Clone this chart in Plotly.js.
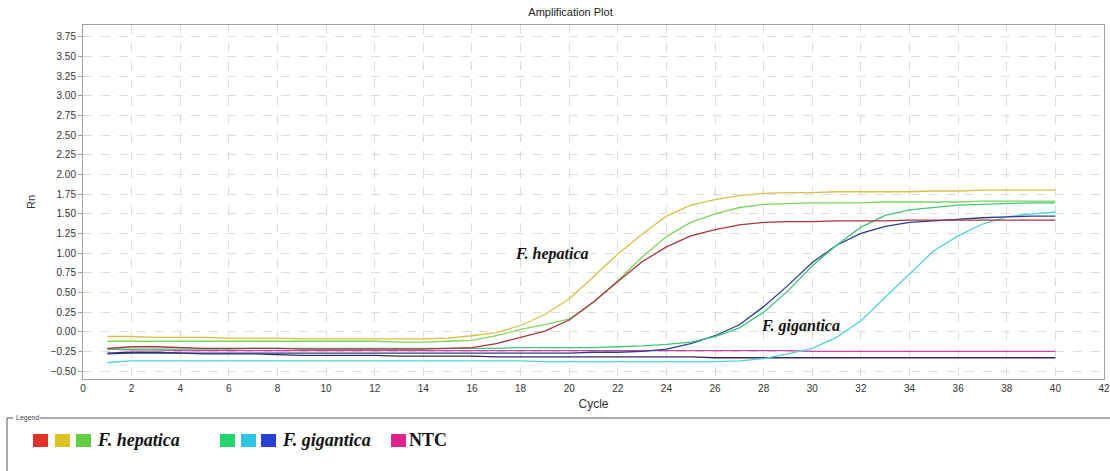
<!DOCTYPE html>
<html><head><meta charset="utf-8">
<script src="https://cdn.plot.ly/plotly-3.0.1.min.js"></script>
<style>html,body{margin:0;padding:0;background:#fff;}#plot{width:1110px;height:471px;}</style>
</head><body><div id="plot"></div>
<script>
var cycles = [];
for (var i = 1; i <= 40; i++) cycles.push(i);

var hepYellow = [-0.06,-0.06,-0.07,-0.07,-0.07,-0.08,-0.08,-0.08,-0.09,-0.09,-0.09,-0.09,-0.09,-0.09,-0.08,-0.05,-0.01,0.08,0.22,0.42,0.70,0.99,1.24,1.47,1.61,1.68,1.73,1.76,1.77,1.77,1.78,1.78,1.78,1.78,1.79,1.79,1.80,1.80,1.80,1.80];
var hepGreen = [-0.12,-0.12,-0.12,-0.12,-0.12,-0.12,-0.12,-0.12,-0.12,-0.12,-0.12,-0.12,-0.13,-0.13,-0.12,-0.11,-0.05,0.03,0.09,0.16,0.38,0.65,0.95,1.21,1.39,1.50,1.58,1.62,1.63,1.64,1.64,1.64,1.65,1.65,1.65,1.65,1.66,1.66,1.66,1.66];
var hepRed = [-0.21,-0.19,-0.19,-0.20,-0.21,-0.21,-0.21,-0.21,-0.22,-0.22,-0.22,-0.22,-0.22,-0.22,-0.21,-0.20,-0.15,-0.07,0.01,0.15,0.38,0.64,0.89,1.08,1.22,1.30,1.36,1.39,1.40,1.40,1.41,1.41,1.41,1.42,1.42,1.42,1.42,1.42,1.42,1.42];
var gigGreen = [-0.22,-0.22,-0.22,-0.22,-0.22,-0.22,-0.21,-0.21,-0.21,-0.21,-0.21,-0.21,-0.21,-0.21,-0.21,-0.21,-0.21,-0.20,-0.20,-0.20,-0.20,-0.19,-0.18,-0.16,-0.13,-0.06,0.05,0.25,0.52,0.84,1.10,1.33,1.48,1.55,1.58,1.61,1.62,1.63,1.64,1.64];
var gigCyan = [-0.39,-0.37,-0.37,-0.37,-0.37,-0.37,-0.37,-0.37,-0.37,-0.37,-0.37,-0.37,-0.37,-0.37,-0.37,-0.37,-0.37,-0.37,-0.38,-0.38,-0.38,-0.38,-0.38,-0.38,-0.38,-0.38,-0.37,-0.34,-0.28,-0.21,-0.07,0.14,0.44,0.73,1.03,1.22,1.37,1.46,1.50,1.52];
var gigBlue = [-0.28,-0.27,-0.27,-0.27,-0.27,-0.27,-0.27,-0.27,-0.27,-0.27,-0.27,-0.27,-0.27,-0.27,-0.27,-0.27,-0.27,-0.27,-0.27,-0.27,-0.26,-0.26,-0.25,-0.22,-0.15,-0.05,0.09,0.32,0.59,0.88,1.10,1.25,1.34,1.39,1.41,1.43,1.45,1.46,1.47,1.47];
var ntcMagenta = [-0.22,-0.23,-0.23,-0.24,-0.24,-0.24,-0.24,-0.24,-0.24,-0.24,-0.24,-0.24,-0.24,-0.24,-0.24,-0.24,-0.24,-0.24,-0.24,-0.24,-0.24,-0.24,-0.24,-0.24,-0.24,-0.24,-0.24,-0.24,-0.24,-0.25,-0.25,-0.25,-0.25,-0.25,-0.25,-0.25,-0.25,-0.25,-0.25,-0.25];
var ntcPurple = [-0.27,-0.26,-0.26,-0.27,-0.28,-0.28,-0.28,-0.29,-0.30,-0.30,-0.30,-0.30,-0.31,-0.31,-0.31,-0.31,-0.32,-0.32,-0.32,-0.32,-0.32,-0.32,-0.32,-0.32,-0.32,-0.33,-0.33,-0.33,-0.33,-0.33,-0.33,-0.33,-0.33,-0.33,-0.33,-0.33,-0.33,-0.33,-0.33,-0.33];

var series = [
  {y: ntcPurple, c: '#3d2464'},
  {y: ntcMagenta, c: '#cf3fa8'},
  {y: gigCyan, c: '#52cfdf'},
  {y: gigBlue, c: '#2c3f8c'},
  {y: gigGreen, c: '#3fc77a'},
  {y: hepGreen, c: '#7fd45c'},
  {y: hepRed, c: '#a8343c'},
  {y: hepYellow, c: '#d6c146'}
];
var traces = series.map(function(s){
  return {x: cycles, y: s.y, type: 'scatter', mode: 'lines', line: {color: s.c, width: 1.3}, hoverinfo: 'skip'};
});

// pixel -> paper helpers (plot area 83..1104 x, 25..379 y)
function px(x){ return (x-83)/1021; }
function py(y){ return (379-y)/354; }

var legendColors = ['#e0322a','#dcc224','#62d042','#22d46e','#2ec4e4','#2a3fd4','#e0228c'];
var legendX = [33, 55, 76, 220, 241, 261, 391];
var shapes = [
  {type:'line', xref:'paper', yref:'paper', x0:px(7), x1:px(1112), y0:py(418), y1:py(418), line:{color:'#555', width:1}},
  {type:'line', xref:'paper', yref:'paper', x0:px(7), x1:px(7), y0:py(418), y1:py(475), line:{color:'#555', width:1}},
  {type:'rect', xref:'paper', yref:'paper', x0:px(13), x1:px(40), y0:py(414), y1:py(422), fillcolor:'#fff', line:{width:0}}
];
legendColors.forEach(function(c, i){
  shapes.push({type:'rect', xref:'paper', yref:'paper', x0:px(legendX[i]), x1:px(legendX[i]+15), y0:py(447), y1:py(434), fillcolor:c, line:{width:0}});
});

var serifBI = {family:'Liberation Serif, Times New Roman, serif', size:18, color:'#111'};
var annotations = [
  {xref:'paper', yref:'paper', x:px(14), y:py(418), text:'Legend', showarrow:false, xanchor:'left', yanchor:'middle', font:{family:'Liberation Sans, Arial', size:7, color:'#444'}},
  {xref:'paper', yref:'paper', x:px(95), y:py(440), text:'<b><i>F. hepatica</i></b>', showarrow:false, xanchor:'left', yanchor:'middle', font:serifBI},
  {xref:'paper', yref:'paper', x:px(280), y:py(440), text:'<b><i>F. gigantica</i></b>', showarrow:false, xanchor:'left', yanchor:'middle', font:serifBI},
  {xref:'paper', yref:'paper', x:px(407), y:py(440), text:'<b>NTC</b>', showarrow:false, xanchor:'left', yanchor:'middle', font:serifBI},
  {xref:'x', yref:'y', x:19.3, y:0.99, text:'<b><i>F. hepatica</i></b>', showarrow:false, font:{family:'Liberation Serif, Times New Roman, serif', size:16, color:'#111'}},
  {xref:'x', yref:'y', x:29.5, y:0.08, text:'<b><i>F. gigantica</i></b>', showarrow:false, font:{family:'Liberation Serif, Times New Roman, serif', size:16, color:'#111'}}
];

var tickFont = {family:'Liberation Sans, Arial, sans-serif', size:10, color:'#333'};
var layout = {
  width:1110, height:471,
  margin:{l:83, r:6, t:25, b:92, pad:0},
  paper_bgcolor:'#fff', plot_bgcolor:'#fff',
  showlegend:false,
  title:{text:'Amplification Plot', x:0.514, xanchor:'center', y:0.975, yanchor:'middle', font:{family:'Liberation Sans, Arial, sans-serif', size:11, color:'#222'}},
  xaxis:{range:[0,42], dtick:2, tick0:0, showgrid:true, gridcolor:'#dcdcdc', griddash:'dash', gridwidth:1,
    showline:true, linecolor:'#a0a0a0', mirror:true, zeroline:false, ticks:'', tickfont:tickFont,
    title:{text:'Cycle', font:{family:'Liberation Sans, Arial, sans-serif', size:12, color:'#333'}, standoff:6}},
  yaxis:{range:[-0.6,3.9], tickvals:[-0.5,-0.25,0,0.25,0.5,0.75,1,1.25,1.5,1.75,2,2.25,2.5,2.75,3,3.25,3.5,3.75], tickformat:'.2f',
    showgrid:true, gridcolor:'#dcdcdc', griddash:'dash', gridwidth:1,
    showline:true, linecolor:'#a0a0a0', mirror:true, zeroline:false, ticks:'outside', ticklen:4, tickcolor:'#a0a0a0', tickfont:tickFont,
    title:{text:'Rn', font:{family:'Liberation Sans, Arial, sans-serif', size:11, color:'#333'}, standoff:12}},
  shapes:shapes,
  annotations:annotations
};
Plotly.newPlot('plot', traces, layout, {displayModeBar:false, staticPlot:true});
</script></body></html>
